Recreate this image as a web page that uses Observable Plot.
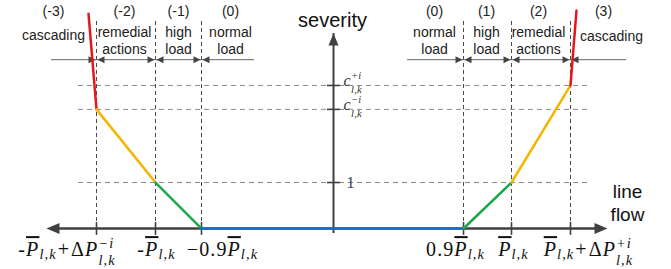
<!DOCTYPE html>
<html><head><meta charset="utf-8">
<script src="https://cdn.jsdelivr.net/npm/d3@7"></script>
<script src="https://cdn.jsdelivr.net/npm/@observablehq/plot@0.6"></script>
<style>html,body{margin:0;padding:0;background:#fff;}</style>
</head><body><div id="chart"></div>
<script>
// ---- data (schematic units: flow and severity) ----
const flowTicks = [-2.37, -1.78, -1.32, 1.30, 1.78, 2.37];
const flowLabelX = [-2.665, -1.77, -1.11, 1.22, 1.80, 2.55];
const flowTickLabels = [
  [{t:"-"},{t:"P",it:true,bar:true},{sub:"l,k"},{t:"+",pad:1},{t:"Δ"},{t:"P",it:true},{sub:"l,k",sup:"−i"}],
  [{t:"-"},{t:"P",it:true,bar:true},{sub:"l,k"}],
  [{t:"−0.9"},{t:"P",it:true,bar:true},{sub:"l,k"}],
  [{t:"0.9"},{t:"P",it:true,bar:true},{sub:"l,k"}],
  [{t:"P",it:true,bar:true},{sub:"l,k"}],
  [{t:"P",it:true,bar:true},{sub:"l,k"},{t:"+",pad:1},{t:"Δ"},{t:"P",it:true},{sub:"l,k",sup:"+i"}]
];
const severityTicks = [1, 2.59, 3.11];
const cLevels = [2.59, 3.11];
const cLabels = [
  [{t:"c",it:true},{sub:"l,k",sup:"−i"}],
  [{t:"c",it:true},{sub:"l,k",sup:"+i"}]
];
const curveFlow = [-2.45, -2.37, -1.78, -1.32, 1.30, 1.78, 2.37, 2.43];
const curveSeverity = [4.67, 2.59, 1, 0, 0, 1, 3.11, 4.74];
const segmentColors = ["#e8161c", "#f7b500", "#1ea64c", "#1a6ec2", "#1ea64c", "#f7b500", "#e8161c"];
const regionCodes = ["(-3)", "(-2)", "(-1)", "(0)", "(0)", "(1)", "(2)", "(3)"];
const regionNames = ["cascading", "remedial\nactions", "high\nload", "normal\nload", "normal\nload", "high\nload", "remedial\nactions", "cascading"];
const regionCodeX = [-2.80, -2.09, -1.55, -1.03, 1.01, 1.53, 2.05, 2.70];
const regionNameX = [-2.80, -2.09, -1.55, -1.03, 1.01, 1.53, 2.05, 2.78];
const regionNameY = [4.22, 4.087, 4.087, 4.087, 4.087, 4.087, 4.087, 4.20];
const bracketSpans = [{x1: -2.82, x2: -0.79}, {x1: 0.74, x2: 2.93}];
const bracketLevel = 3.67;
const axisFlowMin = -2.87, axisFlowMax = 2.74, axisSevMax = 4.24;
const guideFlowExtent = 2.55, guideSevTop = 4.52;

// ---- derived tables ----
const curveRows = d3.range(segmentColors.length).flatMap(i => [
  {seg: i, flow: curveFlow[i], sev: curveSeverity[i], color: segmentColors[i]},
  {seg: i, flow: curveFlow[i + 1], sev: curveSeverity[i + 1], color: segmentColors[i]}
]);
const regions = regionCodes.map((c, i) => ({code: c, name: regionNames[i], cx: regionCodeX[i], nx: regionNameX[i], ny: regionNameY[i]}));
const flowLabelRows = flowTickLabels.map((l, i) => ({x: flowLabelX[i], label: "x"}));

const tri = (dir, L, H) => ({draw(c) {
  c.moveTo(0, 0);
  if (dir === "right") { c.lineTo(-L, -H); c.lineTo(-L, H); }
  else if (dir === "left") { c.lineTo(L, -H); c.lineTo(L, H); }
  else { c.lineTo(-H, L); c.lineTo(H, L); }
  c.closePath();
}});

const sans = "'Liberation Sans', Arial, Helvetica, sans-serif";
const serif = "'Liberation Serif', 'Times New Roman', serif";
const axisColor = "#404040";

const chart = Plot.plot({
  width: 671, height: 269, margin: 0,
  x: {domain: [-3.33, 3.38], axis: null},
  y: {domain: [-0.891, 4.957], axis: null},
  color: {type: "identity"},
  style: {background: "#fff", fontFamily: sans, overflow: "visible"},
  marks: [
    Plot.ruleY(severityTicks, {y: d => d, x1: -guideFlowExtent, x2: guideFlowExtent, stroke: "#8a8a8a", strokeWidth: 1, strokeDasharray: "5,4"}),
    Plot.ruleX(flowTicks, {x: d => d, y1: 0, y2: guideSevTop, stroke: "#4a4a4a", strokeWidth: 1, strokeDasharray: "4,3"}),
    Plot.ruleY(bracketSpans, {y: bracketLevel, x1: "x1", x2: "x2", stroke: "#666", strokeWidth: 1}),
    Plot.dot(flowTicks, {x: d => d, y: bracketLevel, dx: -1, symbol: tri("right", 7, 3.5), fill: "#444"}),
    Plot.dot(flowTicks, {x: d => d, y: bracketLevel, dx: 1, symbol: tri("left", 7, 3.5), fill: "#444"}),
    // axes
    Plot.ruleY([0], {x1: axisFlowMin, x2: axisFlowMax, insetLeft: 6, insetRight: 6, stroke: axisColor, strokeWidth: 2.5}),
    Plot.ruleX([0], {y1: 0, y2: axisSevMax, insetTop: 5, stroke: axisColor, strokeWidth: 2}),
    Plot.dot([axisFlowMax], {x: d => d, y: 0, symbol: tri("right", 13, 5.5), fill: axisColor}),
    Plot.dot([axisFlowMin], {x: d => d, y: 0, symbol: tri("left", 13, 5.5), fill: axisColor}),
    Plot.dot([axisSevMax], {x: 0, y: d => d, symbol: tri("up", 12, 5), fill: axisColor}),
    Plot.ruleX(flowTicks, {x: d => d, y1: -0.15, y2: 0.13, stroke: axisColor, strokeWidth: 1.6}),
    Plot.ruleY(severityTicks, {y: d => d, x1: -0.06, x2: 0.07, stroke: axisColor, strokeWidth: 1.6}),
    // severity curve
    Plot.line(curveRows, {x: "flow", y: "sev", z: "seg", stroke: "color", strokeWidth: 2.5}),
    // region labels
    Plot.text(regions, {x: "cx", y: 4.61, text: "code", lineAnchor: "bottom", fontSize: 14, fill: "#222"}),
    Plot.text(regions, {x: "nx", y: "ny", text: "name", lineAnchor: "middle", lineHeight: 1.21, fontSize: 14, fill: "#222"}),
    Plot.text(["severity"], {x: -0.01, y: 4.39, text: d => d, lineAnchor: "bottom", fontSize: 20, fill: "#111"}),
    Plot.text(["line\nflow"], {x: 2.94, y: 0.174, text: d => d, lineAnchor: "bottom", lineHeight: 1.2, fontSize: 19, fill: "#111"}),
    // math labels (placeholders rebuilt below)
    Plot.text(flowLabelRows, {x: "x", y: -0.60, text: "label", lineAnchor: "bottom", fontSize: 20, fontFamily: serif, fill: "#111", ariaDescription: "flow-labels"}),
    Plot.text(["1"], {x: 0.17, y: 1, text: d => d, lineAnchor: "middle", fontSize: 17, fontFamily: serif, fill: "#3b4463"}),
    Plot.text(cLevels, {x: 0.10, y: d => d, dy: 1, text: d => "c", textAnchor: "start", lineAnchor: "bottom", fontSize: 16, fontFamily: serif, fill: "#333", ariaDescription: "c-labels"})
  ]
});
document.getElementById("chart").append(chart);

function richText(selection, labels, fs, spacing, scriptScale, subShift, supShift) {
  selection.each(function(_, i) {
    const segs = labels[i];
    if (!segs) return;
    const t = d3.select(this).attr("letter-spacing", spacing);
    t.text(null);
    let cur = 0, pend = 0;
    const add = (txt, off, size, italic, pad = 0) => {
      const ts = t.append("tspan").text(txt).attr("dy", off - cur).attr("font-size", size);
      if (pend + pad) ts.attr("dx", pend + pad);
      pend = 0;
      if (italic) ts.attr("font-style", "italic");
      cur = off;
      return ts;
    };
    for (const s of segs) {
      if (s.t != null) {
        const ts = add(s.t, 0, fs, s.it, s.pad || 0);
        if (s.bar) ts.style("text-decoration", "overline");
        if (s.pad) pend = s.pad;
      } else {
        const ss = fs * scriptScale;
        if (s.sup && s.sub) {
          const a = add(s.sub, subShift * fs, ss, true);
          const wa = a.node().getComputedTextLength();
          pend = -wa;
          const b = add(s.sup, -supShift * fs, ss, true);
          const wb = b.node().getComputedTextLength();
          pend = Math.max(0, wa - wb);
        } else if (s.sub) add(s.sub, 0.15 * fs, ss, true);
        else add(s.sup, -supShift * fs, ss, true);
      }
    }
  });
}
const svg = d3.select(chart);
const findMark = desc => {
  const g = svg.selectAll("g").filter(function() { return this.getAttribute("aria-description") === desc; });
  return g.selectAll("text");
};
richText(findMark("flow-labels"), flowTickLabels, 20, 1.1, 0.72, 0.42, 0.4);
richText(findMark("c-labels"), cLabels, 16, 0.3, 0.66, 0.42, 0.48);
</script></body></html>
